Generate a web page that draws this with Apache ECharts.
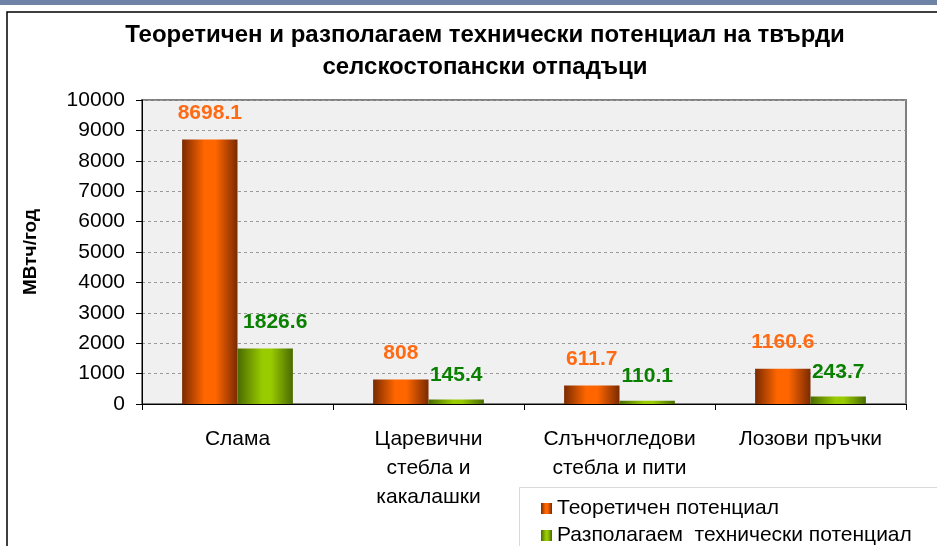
<!DOCTYPE html>
<html>
<head>
<meta charset="utf-8">
<script src="https://cdn.jsdelivr.net/npm/echarts@6/dist/echarts.min.js"></script>
<style>
  html, body { margin: 0; padding: 0; background: #fff; }
  #chart { width: 937px; height: 546px; }
</style>
</head>
<body>
<div id="chart"></div>
<script>
// данни
const categories = ['Слама', 'Царевични\nстебла и\nкакалашки', 'Слънчогледови\nстебла и пити', 'Лозови пръчки']
const theoretical = [8698.1, 808, 611.7, 1160.6]
const available = [1826.6, 145.4, 110.1, 243.7]
const seriesNames = ['Теоретичен потенциал', 'Разполагаем  технически потенциал']

const font = '"Liberation Sans", Arial, sans-serif'

const chart = echarts.init(document.getElementById('chart'))

const orangeFill = new echarts.graphic.LinearGradient(0, 0, 1, 0, [
  { offset: 0, color: '#7a2a00' },
  { offset: 0.4, color: '#ff6600' },
  { offset: 0.6, color: '#ff6600' },
  { offset: 1, color: '#7a2a00' }
])
const greenFill = new echarts.graphic.LinearGradient(0, 0, 1, 0, [
  { offset: 0, color: '#4a6a00' },
  { offset: 0.45, color: '#99cc00' },
  { offset: 0.6, color: '#99cc00' },
  { offset: 1, color: '#4a6a00' }
])

const legendText = { fontFamily: font, fontSize: 21, color: '#000' }

const option = {
  animation: false,
  backgroundColor: '#fff',
  textStyle: { fontFamily: font },
  graphic: [
    { type: 'rect', shape: { x: 0, y: 0, width: 937, height: 5 }, style: { fill: '#6f83a6' }, silent: true },
    { type: 'rect', shape: { x: 7, y: 12, width: 1000, height: 600 }, style: { fill: 'none', stroke: '#000', lineWidth: 1.5 }, silent: true },
    { type: 'rect', shape: { x: 519.5, y: 487.5, width: 500, height: 100 }, style: { fill: '#fff', stroke: '#d9d9d9', lineWidth: 1 }, silent: true, z: -1 }
  ],
  title: {
    text: 'Теоретичен и разполагаем технически потенциал на твърди\nселскостопански отпадъци',
    left: 480,
    textAlign: 'center',
    top: 14,
    textStyle: {
      fontFamily: font,
      fontSize: 24,
      fontWeight: 'bold',
      color: '#000',
      lineHeight: 32
    }
  },
  legend: [
    {
      left: 536,
      top: 493,
      itemWidth: 11,
      itemHeight: 11,
      itemGap: 6,
      icon: 'rect',
      data: [seriesNames[0]],
      textStyle: legendText
    },
    {
      left: 536,
      top: 520,
      itemWidth: 11,
      itemHeight: 11,
      itemGap: 6,
      icon: 'rect',
      data: [seriesNames[1]],
      textStyle: legendText
    }
  ],
  grid: {
    left: 142,
    right: 31,
    top: 100,
    bottom: 142,
    show: true,
    backgroundColor: '#f0f0f0',
    borderColor: '#808080',
    borderWidth: 2
  },
  xAxis: {
    type: 'category',
    data: categories,
    axisLine: { lineStyle: { color: '#000', width: 1 } },
    axisTick: { show: true, length: 6, lineStyle: { color: '#000' } },
    axisLabel: {
      color: '#000',
      fontFamily: font,
      fontSize: 21,
      lineHeight: 29,
      margin: 21,
      interval: 0
    }
  },
  yAxis: {
    type: 'value',
    min: 0,
    max: 10000,
    interval: 1000,
    name: 'МВтч/год',
    nameLocation: 'middle',
    nameGap: 102,
    nameTextStyle: { fontFamily: font, fontSize: 19, fontWeight: 'bold', color: '#000' },
    axisLine: { show: true, lineStyle: { color: '#000' } },
    axisTick: { show: true, length: 6, lineStyle: { color: '#000' } },
    axisLabel: {
      color: '#000',
      fontFamily: font,
      fontSize: 21,
      margin: 17,
      formatter: (v) => String(v)
    },
    splitLine: { lineStyle: { color: '#999', type: [3, 3] } }
  },
  series: [
    {
      name: seriesNames[0],
      type: 'bar',
      data: theoretical,
      barGap: '0%',
      barCategoryGap: '42%',
      itemStyle: { color: orangeFill },
      label: {
        show: true,
        position: 'top',
        distance: 16,
        color: '#ff6a13',
        fontFamily: font,
        fontSize: 21,
        fontWeight: 'bold'
      }
    },
    {
      name: seriesNames[1],
      type: 'bar',
      // първият етикет е изместен малко надясно, както в оригинала
      data: available.map((v, i) => i === 0 ? { value: v, label: { offset: [10, -2] } } : v),
      itemStyle: { color: greenFill },
      label: {
        show: true,
        position: 'top',
        distance: 14,
        color: '#0a8000',
        fontFamily: font,
        fontSize: 21,
        fontWeight: 'bold'
      }
    }
  ]
}

chart.setOption(option)
</script>
</body>
</html>
